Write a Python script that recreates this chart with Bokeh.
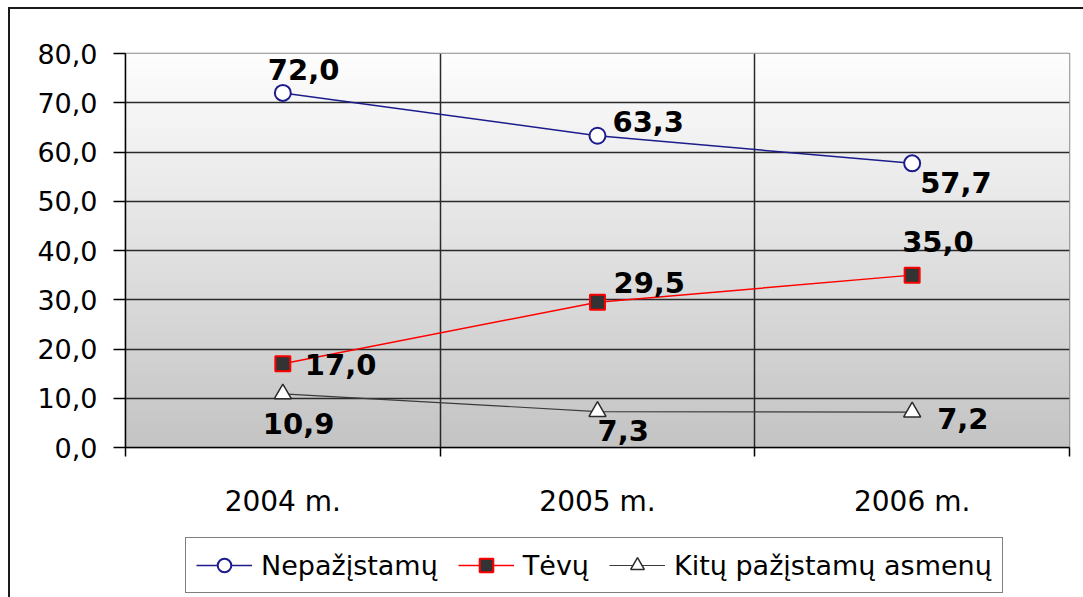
import numpy as np
from bokeh.plotting import figure
from bokeh.layouts import column
from bokeh.models import (ColumnDataSource, Range1d, FixedTicker, Legend, LegendItem)
from bokeh.core.properties import value
from bokeh.embed import file_html
from bokeh.resources import INLINE

# ---------------- data ----------------
categories = ["2004 m.", "2005 m.", "2006 m."]
series_names = ["Nepažįstamų", "Tėvų", "Kitų pažįstamų asmenų"]
nepazistamu = [72.0, 63.3, 57.7]
tevu = [17.0, 29.5, 35.0]
kitu = [10.9, 7.3, 7.2]
y_ticks = [0, 10, 20, 30, 40, 50, 60, 70, 80]

# ---------------- styles ----------------
FONT = value("DejaVu Sans")
label_dx = {
    "nep": [-15, 15, 8],
    "tev": [22, 16, -10],
    "kit": [-20, 0, 25],
}
label_dy = {
    "nep": [-23, -14, 19],
    "tev": [1, -20, -34],
    "kit": [30, 19, 6],
}

xs = [i + 0.5 for i in range(len(categories))]

p = figure(width=1073, height=511, output_backend="svg", toolbar_location=None,
           x_range=Range1d(0, len(categories)), y_range=Range1d(0, 80),
           min_border_left=115, min_border_right=14, min_border_top=44,
           min_border_bottom=72)

# gradient background
n = 200
shade = np.linspace(196, 254, n).astype(np.uint8)
img = np.zeros((n, 1), dtype=np.uint32)
view = img.view(dtype=np.uint8).reshape((n, 1, 4))
view[:, 0, 0] = shade
view[:, 0, 1] = shade
view[:, 0, 2] = shade
view[:, 0, 3] = 255
p.image_rgba(image=[img], x=0, y=0, dw=len(categories), dh=80, level="image")

p.outline_line_color = "#8a8a8a"
p.outline_line_width = 1.5

# grids
p.ygrid.ticker = FixedTicker(ticks=y_ticks)
p.ygrid.grid_line_color = "#2a2a2a"
p.ygrid.grid_line_width = 1.5
p.xgrid.ticker = FixedTicker(ticks=list(range(len(categories) + 1)))
p.xgrid.grid_line_color = "#2a2a2a"
p.xgrid.grid_line_width = 1.5

# y axis
p.yaxis.ticker = FixedTicker(ticks=y_ticks)
p.yaxis.major_label_overrides = {t: f"{t:.1f}".replace(".", ",") for t in y_ticks}
p.yaxis.major_tick_out = 12
p.yaxis.major_tick_in = 0
p.yaxis.major_tick_line_color = "black"
p.yaxis.major_tick_line_width = 1.5
p.yaxis.minor_tick_line_color = None
p.yaxis.axis_line_color = "black"
p.yaxis.axis_line_width = 1.5
p.yaxis.major_label_standoff = 16
p.yaxis.major_label_text_font = "DejaVu Sans"
p.yaxis.major_label_text_font_size = "27px"
p.yaxis.major_label_text_color = "black"

# x axis
p.xaxis.ticker = FixedTicker(ticks=xs, minor_ticks=list(range(len(categories) + 1)))
p.xaxis.major_label_overrides = {x: c for x, c in zip(xs, categories)}
p.xaxis.major_tick_line_color = None
p.xaxis.major_tick_out = 0
p.xaxis.major_tick_in = 0
p.xaxis.minor_tick_out = 9
p.xaxis.minor_tick_in = 0
p.xaxis.minor_tick_line_color = "black"
p.xaxis.minor_tick_line_width = 1.5
p.xaxis.axis_line_color = "black"
p.xaxis.axis_line_width = 1.5
p.xaxis.major_label_standoff = 28
p.xaxis.major_label_text_font = "DejaVu Sans"
p.xaxis.major_label_text_font_size = "28px"
p.xaxis.major_label_text_color = "black"

# legend-only figure below the chart
pl = figure(width=1073, height=77, output_backend="svg", toolbar_location=None,
            x_range=Range1d(100, 101), y_range=Range1d(100, 101),
            x_axis_location=None, y_axis_location=None,
            min_border_left=0, min_border_right=0, min_border_top=0, min_border_bottom=0)
pl.outline_line_color = None
pl.xgrid.visible = False
pl.ygrid.visible = False

def fmt(v):
    return f"{v:.1f}".replace(".", ",")

specs = [
    ("nep", nepazistamu, "#1c1c8c", 1.5, dict(marker="circle", size=16, fill_color="white",
                                               line_color="#1c1c8c", line_width=2)),
    ("tev", tevu, "#ff0000", 1.5, dict(marker="square", size=15, fill_color="#333333",
                                        line_color="#ff0000", line_width=2)),
    ("kit", kitu, "#3a3a3a", 1.2, dict(marker="triangle", size=17, fill_color="white",
                                        line_color="#2a2a2a", line_width=1.5)),
]

items = []
for (key, vals, lcol, lw, mk), name in zip(specs, series_names):
    src = ColumnDataSource(dict(x=xs, y=vals, lab=[fmt(v) for v in vals],
                                dx=label_dx[key], dy=label_dy[key]))
    p.line("x", "y", source=src, line_color=lcol, line_width=lw)
    p.scatter("x", "y", source=src, **mk)
    p.text("x", "y", text="lab", source=src, x_offset="dx", y_offset="dy",
           text_font=FONT, text_font_style="bold", text_font_size="29px",
           text_color="black", text_align="left", text_baseline="middle")
    # same series drawn in the legend figure (outside its visible range) for legend glyphs
    lr = pl.line("x", "y", source=src, line_color=lcol, line_width=lw)
    sr = pl.scatter("x", "y", source=src, **mk)
    items.append(LegendItem(label=name, renderers=[lr, sr]))

legend = Legend(items=items, orientation="horizontal", location=(60, 4))
legend.label_text_font = "DejaVu Sans"
legend.label_text_font_size = "27px"
legend.label_text_color = "black"
legend.glyph_width = 56
legend.glyph_height = 34
legend.label_standoff = 9
legend.spacing = 20
legend.padding = 10
legend.margin = 0
legend.border_line_color = "black"
legend.border_line_width = 1.5
legend.background_fill_color = "white"
legend.background_fill_alpha = 1.0
pl.add_layout(legend, "center")

layout = column(p, pl, spacing=0)
layout.styles = {"position": "relative", "left": "8px", "top": "7px",
                 "border-top": "2px solid #1a1a1a", "border-left": "2px solid #1a1a1a"}

open("out.html", "w").write(file_html(layout, INLINE))
